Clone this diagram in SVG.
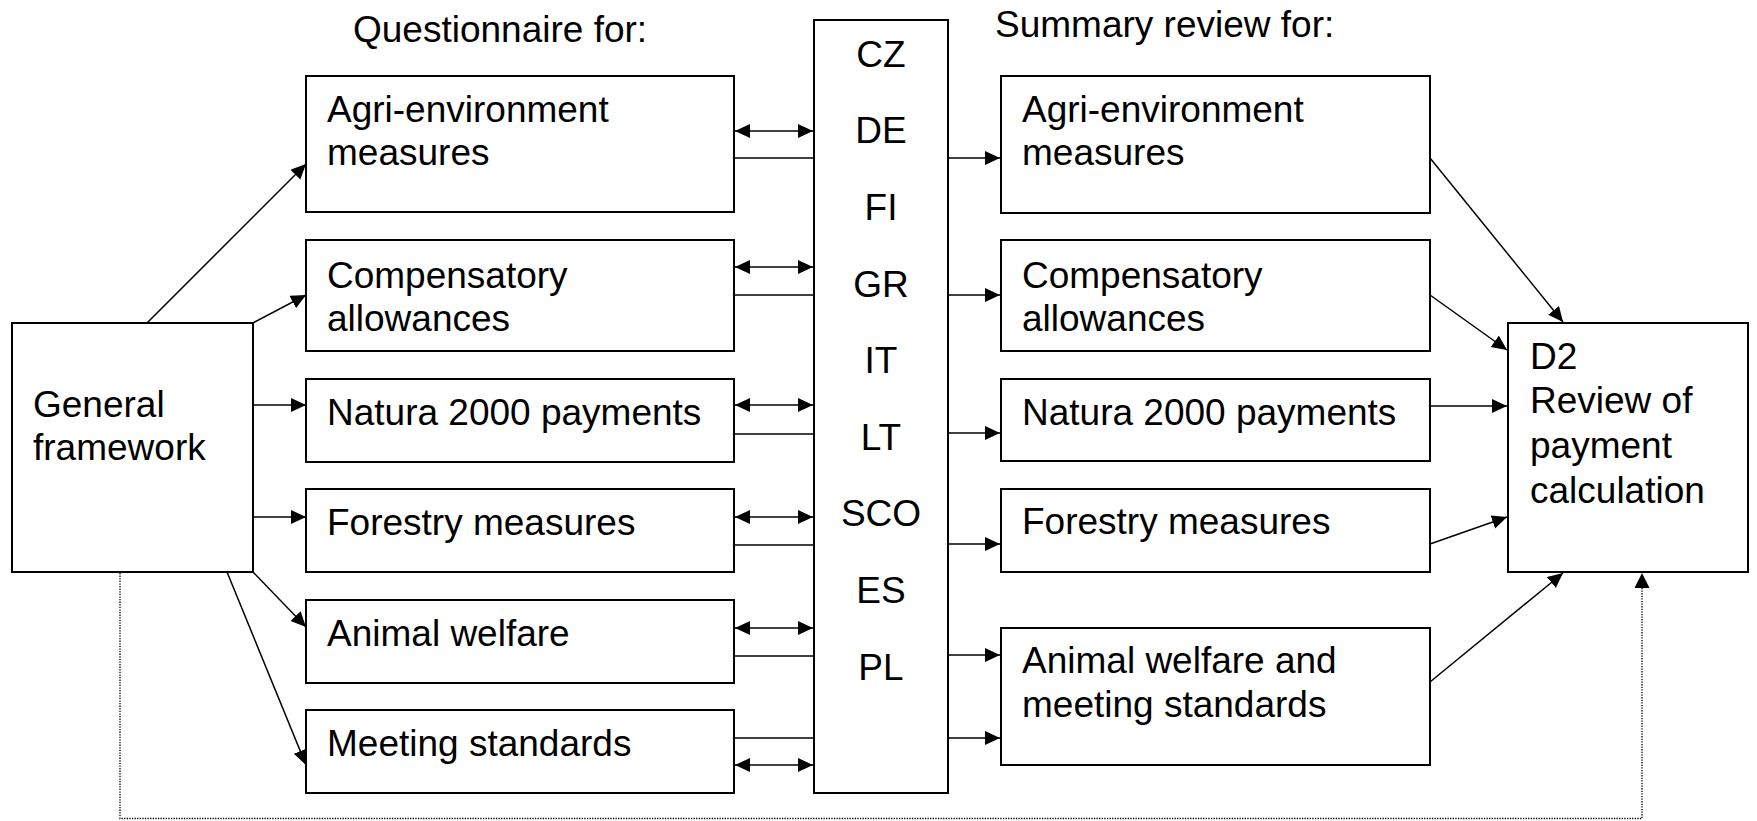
<svg xmlns="http://www.w3.org/2000/svg" width="1757" height="821" viewBox="0 0 1757 821">
<style>
.box{fill:#fff;stroke:#000;stroke-width:2}
.t{font-family:"Liberation Sans",Arial,sans-serif;font-size:37px;fill:#000}
.c{text-anchor:middle}
.ln{fill:none;stroke:#000;stroke-width:1.5}
.ar{marker-end:url(#ah)}
.da{marker-end:url(#ah);marker-start:url(#ah)}
.dot{fill:none;stroke:#000;stroke-width:1.3;stroke-dasharray:1.3 1.3}
</style>
<defs>
<marker id="ah" markerUnits="userSpaceOnUse" markerWidth="16" markerHeight="15" refX="15" refY="7" orient="auto-start-reverse">
<path d="M0,0 L15,7 L0,14 z" fill="#000"/>
</marker>
</defs>
<text class="t" x="353" y="42">Questionnaire for:</text>
<text class="t" x="995" y="37">Summary review for:</text>
<g id="general"><rect class="box" x="12" y="323" width="241" height="249"/><text class="t" x="33" y="417">General</text><text class="t" x="33" y="460">framework</text></g>
<g id="q-agri"><rect class="box" x="306" y="76" width="428" height="136"/><text class="t" x="327" y="122">Agri-environment</text><text class="t" x="327" y="165">measures</text></g>
<g id="q-comp"><rect class="box" x="306" y="240" width="428" height="111"/><text class="t" x="327" y="288">Compensatory</text><text class="t" x="327" y="331">allowances</text></g>
<g id="q-natura"><rect class="box" x="306" y="379" width="428" height="83"/><text class="t" x="327" y="425">Natura 2000 payments</text></g>
<g id="q-forestry"><rect class="box" x="306" y="489" width="428" height="83"/><text class="t" x="327" y="535">Forestry measures</text></g>
<g id="q-animal"><rect class="box" x="306" y="600" width="428" height="83"/><text class="t" x="327" y="646">Animal welfare</text></g>
<g id="q-meeting"><rect class="box" x="306" y="710" width="428" height="83"/><text class="t" x="327" y="756">Meeting standards</text></g>
<g id="countries"><rect class="box" x="814" y="20" width="134" height="773"/>
<text class="t c" x="881" y="67">CZ</text><text class="t c" x="881" y="143">DE</text><text class="t c" x="881" y="220">FI</text><text class="t c" x="881" y="297">GR</text><text class="t c" x="881" y="373">IT</text><text class="t c" x="881" y="450">LT</text><text class="t c" x="881" y="526">SCO</text><text class="t c" x="881" y="603">ES</text><text class="t c" x="881" y="680">PL</text></g>
<g id="s-agri"><rect class="box" x="1001" y="76" width="429" height="137"/><text class="t" x="1022" y="122">Agri-environment</text><text class="t" x="1022" y="165">measures</text></g>
<g id="s-comp"><rect class="box" x="1001" y="240" width="429" height="111"/><text class="t" x="1022" y="288">Compensatory</text><text class="t" x="1022" y="331">allowances</text></g>
<g id="s-natura"><rect class="box" x="1001" y="379" width="429" height="82"/><text class="t" x="1022" y="425">Natura 2000 payments</text></g>
<g id="s-forestry"><rect class="box" x="1001" y="489" width="429" height="83"/><text class="t" x="1022" y="534">Forestry measures</text></g>
<g id="s-animal"><rect class="box" x="1001" y="628" width="429" height="137"/><text class="t" x="1022" y="673">Animal welfare and</text><text class="t" x="1022" y="717">meeting standards</text></g>
<g id="d2"><rect class="box" x="1508" y="323" width="240" height="249"/><text class="t" x="1530" y="369">D2</text><text class="t" x="1530" y="413">Review of</text><text class="t" x="1530" y="458">payment</text><text class="t" x="1530" y="503">calculation</text></g>
<g id="connectors">
<line class="ln ar" x1="147" y1="323" x2="306" y2="164"/>
<line class="ln ar" x1="253" y1="323" x2="306" y2="295"/>
<line class="ln ar" x1="253" y1="405" x2="306" y2="405"/>
<line class="ln ar" x1="253" y1="517" x2="306" y2="517"/>
<line class="ln ar" x1="253" y1="572" x2="306" y2="627"/>
<line class="ln ar" x1="227" y1="572" x2="306" y2="765"/>
<line class="ln da" x1="735" y1="131" x2="813" y2="131"/>
<line class="ln da" x1="735" y1="267" x2="813" y2="267"/>
<line class="ln da" x1="735" y1="405" x2="813" y2="405"/>
<line class="ln da" x1="735" y1="517" x2="813" y2="517"/>
<line class="ln da" x1="735" y1="628" x2="813" y2="628"/>
<line class="ln da" x1="735" y1="765" x2="813" y2="765"/>
<line class="ln" x1="734" y1="158" x2="814" y2="158"/>
<line class="ln" x1="734" y1="295" x2="814" y2="295"/>
<line class="ln" x1="734" y1="434" x2="814" y2="434"/>
<line class="ln" x1="734" y1="545" x2="814" y2="545"/>
<line class="ln" x1="734" y1="656" x2="814" y2="656"/>
<line class="ln" x1="734" y1="738" x2="814" y2="738"/>
<line class="ln ar" x1="948" y1="158" x2="1000" y2="158"/>
<line class="ln ar" x1="948" y1="295" x2="1000" y2="295"/>
<line class="ln ar" x1="948" y1="433" x2="1000" y2="433"/>
<line class="ln ar" x1="948" y1="544" x2="1000" y2="544"/>
<line class="ln ar" x1="948" y1="655" x2="1000" y2="655"/>
<line class="ln ar" x1="948" y1="738" x2="1000" y2="738"/>
<line class="ln ar" x1="1430" y1="158" x2="1563" y2="322"/>
<line class="ln ar" x1="1430" y1="295" x2="1507" y2="350"/>
<line class="ln ar" x1="1430" y1="406" x2="1507" y2="406"/>
<line class="ln ar" x1="1430" y1="544" x2="1507" y2="517"/>
<line class="ln ar" x1="1430" y1="682" x2="1563" y2="573"/>
<polyline class="dot" points="120,573 120,818.5 1642,818.5 1642,587"/>
<path d="M1634.5,588 L1642,573 L1649.5,588 z" fill="#000"/>
</g>
</svg>
